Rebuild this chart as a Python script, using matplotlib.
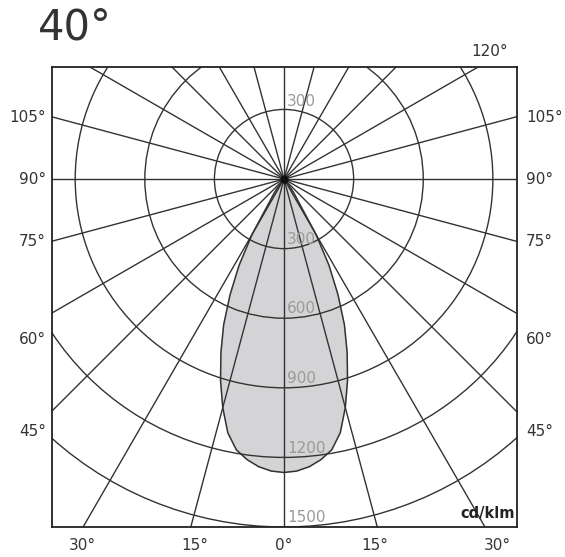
import matplotlib
matplotlib.use('Agg')
import matplotlib.pyplot as plt
import numpy as np
from matplotlib.patches import Circle

# light distribution, 0 deg = straight down (cd/klm), symmetric
angles = [0, 2.5, 5, 7.5, 10, 12.5, 15, 17.5, 20, 22.5, 25, 27.5, 30, 32.5, 35, 37.5, 40, 42.5]
intensity = [1265, 1260, 1245, 1220, 1185, 1120, 1020, 910, 795, 680, 550, 420, 275, 115, 75, 40, 12, 0]

rings = [300, 600, 900, 1200, 1500]
ring_labels = ['300', '600', '900', '1200', '1500']
ray_angles = np.arange(0, 180, 15)

side_labels = ['105°', '90°', '75°', '60°', '45°']
side_label_y = [117, 180, 242, 340, 432]
bottom_labels = ['30°', '15°', '0°', '15°', '30°']
bottom_label_x = [82, 195, 284, 375, 497]

W, H = 565, 557
fig = plt.figure(figsize=(W / 100, H / 100), dpi=100)
ax = fig.add_axes([52 / W, 1 - 527 / H, 465 / W, 460 / H])
ax.set_xlim(-1000, 1004)
ax.set_ylim(-1500, 483)
ax.set_aspect('auto')
ax.set_xticks([])
ax.set_yticks([])
for s in ax.spines.values():
    s.set_linewidth(1.3)
    s.set_color('#222222')

line_c = '#333333'

# lobe
th = np.radians(np.concatenate([-np.array(angles[::-1]), np.array(angles[1:])]))
r = np.concatenate([np.array(intensity[::-1]), np.array(intensity[1:])])
ax.fill(r * np.sin(th), -r * np.cos(th), color='#d4d4d6', zorder=1)
ax.plot(r * np.sin(th), -r * np.cos(th), color=line_c, lw=1.1, zorder=3)

# grid circles
for rr in rings:
    ax.add_patch(Circle((0, 0), rr, fill=False, ec=line_c, lw=1.0, zorder=2))

# rays through the centre
for a in ray_angles:
    t = np.radians(a)
    L = 3000
    ax.plot([-L * np.sin(t), L * np.sin(t)], [L * np.cos(t), -L * np.cos(t)],
            color=line_c, lw=1.0, zorder=2)
ax.plot(0, 0, 'o', color='#111111', ms=5, zorder=4)

# ring value labels
ax.text(12, 300, ring_labels[0], color='#9a9a9a', fontsize=11, ha='left', va='bottom', zorder=5)
for rr, lab in zip(rings, ring_labels):
    ax.text(12, -rr + 8, lab, color='#9a9a9a', fontsize=11, ha='left', va='bottom', zorder=5)

ax.text(0.995, 0.012, 'cd/klm', transform=ax.transAxes, fontsize=10.5, fontweight='bold',
        color='#222222', ha='right', va='bottom', zorder=5)

# angle labels
tc = '#333333'
for lab, y in zip(side_labels, side_label_y):
    fig.text(46 / W, 1 - y / H, lab, ha='right', va='center', fontsize=11, color=tc)
    fig.text(526 / W, 1 - y / H, lab, ha='left', va='center', fontsize=11, color=tc)
for lab, x in zip(bottom_labels, bottom_label_x):
    fig.text(x / W, 1 - 546 / H, lab, ha='center', va='center', fontsize=11, color=tc)
fig.text(490 / W, 1 - 52 / H, '120°', ha='center', va='center', fontsize=11, color=tc)

fig.text(38 / W, 1 - 28 / H, '40°', ha='left', va='center', fontsize=30, color='#333333')

fig.savefig('out.png', dpi=100)
